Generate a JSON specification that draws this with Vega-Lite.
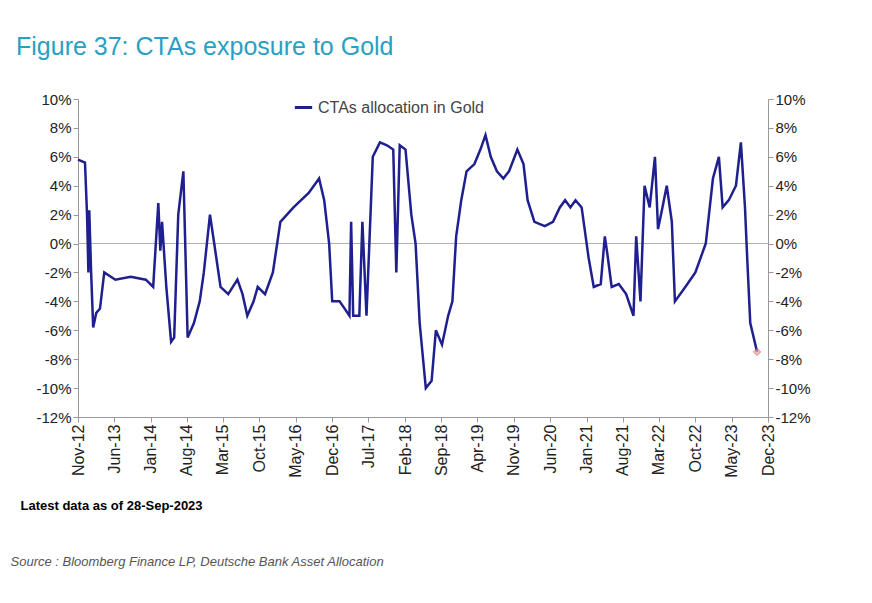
{
  "$schema": "https://vega.github.io/schema/vega-lite/v6.json",
  "width": 690,
  "height": 318,
  "padding": {"left": 10, "top": 35, "right": 10, "bottom": 5},
  "background": "white",
  "title": {
    "text": "Figure 37: CTAs exposure to Gold",
    "anchor": "start",
    "frame": "group",
    "dx": -62,
    "offset": 32,
    "fontSize": 25,
    "font": "Liberation Sans",
    "fontWeight": "normal",
    "color": "#2a9fc4"
  },
  "datasets": {
    "cta": [
      {"date": "2012-11-01", "v": 5.8}, {"date": "2012-12-12", "v": 5.6}, {"date": "2012-12-24", "v": 2},
      {"date": "2013-01-01", "v": -2}, {"date": "2013-01-06", "v": 2.3}, {"date": "2013-01-17", "v": -2},
      {"date": "2013-01-29", "v": -5.8}, {"date": "2013-02-16", "v": -4.8}, {"date": "2013-03-10", "v": -4.5},
      {"date": "2013-04-04", "v": -2}, {"date": "2013-06-08", "v": -2.5}, {"date": "2013-09-06", "v": -2.3},
      {"date": "2013-12-04", "v": -2.5}, {"date": "2014-01-16", "v": -3}, {"date": "2014-02-15", "v": 2.8},
      {"date": "2014-02-27", "v": -0.5}, {"date": "2014-03-09", "v": 1.5}, {"date": "2014-04-03", "v": -3},
      {"date": "2014-05-01", "v": -6.8}, {"date": "2014-05-19", "v": -6.5}, {"date": "2014-06-12", "v": 2},
      {"date": "2014-07-12", "v": 5}, {"date": "2014-08-06", "v": -6.5}, {"date": "2014-09-12", "v": -5.5},
      {"date": "2014-10-16", "v": -4}, {"date": "2014-11-09", "v": -2}, {"date": "2014-12-15", "v": 2},
      {"date": "2015-01-09", "v": 0}, {"date": "2015-02-15", "v": -3}, {"date": "2015-04-01", "v": -3.5},
      {"date": "2015-05-25", "v": -2.5}, {"date": "2015-06-24", "v": -3.5}, {"date": "2015-07-22", "v": -5},
      {"date": "2015-08-28", "v": -4}, {"date": "2015-09-21", "v": -3}, {"date": "2015-11-03", "v": -3.5},
      {"date": "2015-12-19", "v": -2}, {"date": "2016-02-01", "v": 1.5}, {"date": "2016-04-18", "v": 2.5},
      {"date": "2016-07-16", "v": 3.5}, {"date": "2016-09-15", "v": 4.5}, {"date": "2016-10-15", "v": 3},
      {"date": "2016-11-13", "v": 0}, {"date": "2016-12-01", "v": -4}, {"date": "2017-01-13", "v": -4},
      {"date": "2017-02-12", "v": -4.5}, {"date": "2017-03-12", "v": -5}, {"date": "2017-03-22", "v": 1.5},
      {"date": "2017-04-03", "v": -5}, {"date": "2017-05-09", "v": -5}, {"date": "2017-05-27", "v": 1.5},
      {"date": "2017-06-20", "v": -5}, {"date": "2017-07-27", "v": 6}, {"date": "2017-09-07", "v": 7},
      {"date": "2017-10-18", "v": 6.8}, {"date": "2017-11-24", "v": 6.5}, {"date": "2017-12-12", "v": -2},
      {"date": "2018-01-01", "v": 6.8}, {"date": "2018-02-04", "v": 6.5}, {"date": "2018-03-10", "v": 2},
      {"date": "2018-04-04", "v": 0}, {"date": "2018-04-28", "v": -5.5}, {"date": "2018-06-03", "v": -10},
      {"date": "2018-07-07", "v": -9.5}, {"date": "2018-08-01", "v": -6}, {"date": "2018-09-06", "v": -7},
      {"date": "2018-10-12", "v": -5}, {"date": "2018-11-06", "v": -4}, {"date": "2018-11-28", "v": 0.5},
      {"date": "2018-12-28", "v": 3}, {"date": "2019-01-28", "v": 5}, {"date": "2019-03-15", "v": 5.5},
      {"date": "2019-04-19", "v": 6.5}, {"date": "2019-05-19", "v": 7.5}, {"date": "2019-06-19", "v": 6},
      {"date": "2019-07-25", "v": 5}, {"date": "2019-09-01", "v": 4.5}, {"date": "2019-10-04", "v": 5},
      {"date": "2019-11-22", "v": 6.5}, {"date": "2019-12-28", "v": 5.5}, {"date": "2020-01-21", "v": 3},
      {"date": "2020-03-01", "v": 1.5}, {"date": "2020-05-01", "v": 1.2}, {"date": "2020-06-18", "v": 1.5},
      {"date": "2020-07-28", "v": 2.5}, {"date": "2020-08-28", "v": 3}, {"date": "2020-09-28", "v": 2.5},
      {"date": "2020-10-28", "v": 3}, {"date": "2020-12-03", "v": 2.5}, {"date": "2021-01-13", "v": -1},
      {"date": "2021-02-12", "v": -3}, {"date": "2021-03-25", "v": -2.8}, {"date": "2021-04-18", "v": 0.5},
      {"date": "2021-05-06", "v": -1}, {"date": "2021-05-28", "v": -3}, {"date": "2021-07-09", "v": -2.8},
      {"date": "2021-08-21", "v": -3.5}, {"date": "2021-10-03", "v": -5}, {"date": "2021-10-19", "v": 0.5},
      {"date": "2021-11-13", "v": -4}, {"date": "2021-12-07", "v": 4}, {"date": "2022-01-06", "v": 2.5},
      {"date": "2022-02-06", "v": 6}, {"date": "2022-02-24", "v": 1}, {"date": "2022-03-22", "v": 2.5},
      {"date": "2022-04-16", "v": 4}, {"date": "2022-05-16", "v": 1.5}, {"date": "2022-06-03", "v": -4},
      {"date": "2022-08-03", "v": -3}, {"date": "2022-10-01", "v": -2}, {"date": "2022-12-01", "v": 0},
      {"date": "2023-01-12", "v": 4.5}, {"date": "2023-02-16", "v": 6}, {"date": "2023-03-10", "v": 2.5},
      {"date": "2023-04-15", "v": 3}, {"date": "2023-05-27", "v": 4}, {"date": "2023-06-25", "v": 7},
      {"date": "2023-07-19", "v": 2.5}, {"date": "2023-08-01", "v": -1}, {"date": "2023-08-19", "v": -5.5},
      {"date": "2023-09-28", "v": -7.5}
    ],
    "last": [{"date": "2023-09-28", "v": -7.5}],
    "zero": [{"v": 0}]
  },
  "resolve": {"scale": {"y": "independent", "x": "independent"}, "axis": {"y": "independent", "x": "independent"}},
  "layer": [
    {
      "data": {"name": "zero"},
      "mark": {"type": "rule", "color": "#b0b0b0", "strokeWidth": 1},
      "encoding": {
        "y": {"field": "v", "type": "quantitative", "scale": {"domain": [-12, 10]}, "axis": null}
      }
    },
    {
      "data": {"name": "cta"},
      "transform": [{"calculate": "'CTAs allocation in Gold'", "as": "series"}],
      "mark": {"type": "line", "color": "#1f1f8f", "strokeWidth": 2.5},
      "encoding": {
        "x": {
          "field": "date", "type": "temporal",
          "scale": {"domain": ["2012-11-01", "2023-12-01"]},
          "axis": {
            "values": ["2012-11-01", "2013-06-01", "2014-01-01", "2014-08-01", "2015-03-01", "2015-10-01", "2016-05-01", "2016-12-01", "2017-07-01", "2018-02-01", "2018-09-01", "2019-04-01", "2019-11-01", "2020-06-01", "2021-01-01", "2021-08-01", "2022-03-01", "2022-10-01", "2023-05-01", "2023-12-01"],
            "format": "%b-%y", "labelAngle": -90, "labelAlign": "right", "labelBaseline": "middle", "labelFontSize": 16,
            "title": "Latest data as of 28-Sep-2023", "titleAnchor": "start", "titleAlign": "left",
            "titleX": -58, "titleFontWeight": "bold", "titleFontSize": 13, "titlePadding": 22
          }
        },
        "y": {
          "field": "v", "type": "quantitative",
          "scale": {"domain": [-12, 10]},
          "axis": {"values": [-12, -10, -8, -6, -4, -2, 0, 2, 4, 6, 8, 10], "labelExpr": "datum.value + '%'", "title": null}
        },
        "color": {
          "field": "series", "type": "nominal",
          "scale": {"range": ["#1f1f8f"]},
          "legend": {"orient": "none", "legendX": 215, "legendY": -2, "title": null, "labelLimit": 0, "symbolType": "stroke", "symbolStrokeWidth": 3, "symbolSize": 300, "labelFontSize": 16, "labelColor": "#444"}
        }
      }
    },
    {
      "data": {"name": "last"},
      "mark": {"type": "point", "shape": "diamond", "filled": true, "fill": "#f4a6a6", "stroke": "#c05050", "strokeWidth": 1, "size": 50},
      "encoding": {
        "x": {
          "field": "date", "type": "temporal",
          "scale": {"domain": ["2012-11-01", "2023-12-01"]},
          "axis": {"orient": "bottom", "labels": false, "ticks": false, "domain": false, "title": "Source : Bloomberg Finance LP, Deutsche Bank Asset Allocation",
            "titleAnchor": "start", "titleAlign": "left", "titleX": -68, "titleFontStyle": "italic", "titleFontWeight": "normal", "titleColor": "#555", "titleFontSize": 13, "titlePadding": 138}
        },
        "y": {
          "field": "v", "type": "quantitative",
          "scale": {"domain": [-12, 10]},
          "axis": {"orient": "right", "values": [-12, -10, -8, -6, -4, -2, 0, 2, 4, 6, 8, 10], "labelExpr": "datum.value + '%'", "title": null}
        }
      }
    }
  ],
  "config": {
    "font": "Liberation Sans",
    "view": {"stroke": null},
    "axis": {"grid": false, "labelFontSize": 15, "labelColor": "#222", "domainColor": "#999", "tickColor": "#999"}
  }
}
